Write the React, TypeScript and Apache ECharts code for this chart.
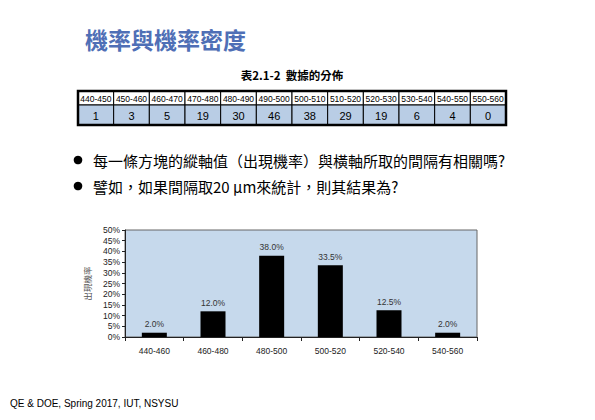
import React, { useEffect, useRef } from 'react';
import * as echarts from 'echarts';

const titleText = '機率與機率密度';
const captionText = '表2.1-2  數據的分佈';
const tableHeaders = ['440-450', '450-460', '460-470', '470-480', '480-490', '490-500', '500-510', '510-520', '520-530', '530-540', '540-550', '550-560'];
const tableCounts = [1, 3, 5, 19, 30, 46, 38, 29, 19, 6, 4, 0];
const bulletLines = [
  '每一條方塊的縱軸值（出現機率）與橫軸所取的間隔有相關嗎?',
  '譬如，如果間隔取20 μm來統計，則其結果為?',
];
const chartCategories = ['440-460', '460-480', '480-500', '500-520', '520-540', '540-560'];
const chartPercents = [2.0, 12.0, 38.0, 33.5, 12.5, 2.0];
const yAxisName = '出現機率';
const footerText = 'QE & DOE, Spring 2017, IUT, NSYSU';

const CJK = '"Noto Sans CJK TC", "Noto Sans CJK SC", sans-serif';
const LATIN = '"Liberation Sans", Arial, sans-serif';

export default function App() {
  const ref = useRef<HTMLDivElement>(null);
  useEffect(() => {
    if (!ref.current) return;
    const chart = echarts.init(ref.current, null, { renderer: 'svg' });
    const bulletY = [160, 186];
    const option: any = {
      animation: false,
      backgroundColor: '#ffffff',
      grid: [
        { left: 125, top: 230, width: 352, height: 107, show: true, backgroundColor: '#c6d9ec', borderColor: '#666', borderWidth: 1 },
        { left: 78, top: 91, width: 428, height: 34, show: false },
      ],
      xAxis: [
        {
          gridIndex: 0, type: 'category', data: chartCategories,
          axisLine: { lineStyle: { color: '#222', width: 1 } },
          axisTick: { show: true, length: 4, lineStyle: { color: '#222' } },
          axisLabel: { fontSize: 8.5, color: '#222', margin: 9, fontFamily: LATIN },
        },
        { gridIndex: 1, type: 'category', data: tableHeaders, show: false },
      ],
      yAxis: [
        {
          gridIndex: 0, type: 'value', min: 0, max: 50, interval: 5,
          axisLine: { show: true, lineStyle: { color: '#222' } },
          axisTick: { show: true, length: 3, lineStyle: { color: '#222' } },
          splitLine: { show: false },
          axisLabel: { formatter: '{value}%', fontSize: 8.5, color: '#222', margin: 5, fontFamily: LATIN },
          name: yAxisName, nameLocation: 'middle', nameRotate: 90, nameGap: 34,
          nameTextStyle: { fontSize: 8.5, color: '#555', fontFamily: CJK },
        },
        { gridIndex: 1, type: 'value', min: 0, max: 1, show: false },
      ],
      series: [
        {
          type: 'bar', xAxisIndex: 0, yAxisIndex: 0, data: chartPercents, barWidth: 25,
          itemStyle: { color: '#000' },
          label: {
            show: true, position: 'top', distance: 4,
            formatter: (p: any) => Number(p.value).toFixed(1) + '%',
            fontSize: 8.5, color: '#333', fontFamily: LATIN,
          },
        },
        {
          type: 'custom', xAxisIndex: 1, yAxisIndex: 1,
          data: tableCounts.map((v, i) => [i, v]),
          renderItem: (params: any, api: any) => {
            const cs = params.coordSys;
            const i = api.value(0);
            const cx = api.coord([i, 0])[0];
            const w = api.size([1, 0])[0];
            const x0 = cx - w / 2;
            const headerH = (cs.height * 14) / 34;
            const valueH = cs.height - headerH;
            const children: any[] = [
              { type: 'rect', shape: { x: x0, y: cs.y, width: w, height: headerH }, style: { fill: '#ffffff', stroke: '#000', lineWidth: 1 } },
              { type: 'text', style: { text: tableHeaders[i], x: cx, y: cs.y + headerH / 2 + 0.5, align: 'center', verticalAlign: 'middle', fontSize: 8.5, fill: '#000', fontFamily: LATIN } },
              { type: 'rect', shape: { x: x0, y: cs.y + headerH, width: w, height: valueH }, style: { fill: '#b9cde5', stroke: '#000', lineWidth: 1 } },
              { type: 'text', style: { text: String(api.value(1)), x: cx, y: cs.y + headerH + valueH / 2 + 0.5, align: 'center', verticalAlign: 'middle', fontSize: 11, fill: '#000', fontFamily: LATIN } },
            ];
            if (i === tableCounts.length - 1) {
              children.push({ type: 'rect', shape: { x: cs.x, y: cs.y, width: cs.width, height: cs.height }, style: { fill: 'none', stroke: '#000', lineWidth: 2.5 } });
            }
            return { type: 'group', children };
          },
        },
      ],
      graphic: [
        { type: 'text', x: 85, y: 39, style: { text: titleText, verticalAlign: 'middle', fontSize: 23, fontWeight: 'bold', fill: '#4f6fb6', fontFamily: CJK } },
        { type: 'text', x: 292, y: 75, style: { text: captionText, align: 'center', verticalAlign: 'middle', fontSize: 11.5, fontWeight: 'bold', fill: '#000', fontFamily: CJK } },
        ...bulletLines.flatMap((t, k) => [
          { type: 'circle', shape: { cx: 78, cy: bulletY[k], r: 4.3 }, style: { fill: '#000' } },
          { type: 'text', x: 93, y: bulletY[k], style: { text: t, verticalAlign: 'middle', fontSize: 15, fill: '#000', fontFamily: CJK } },
        ]),
        { type: 'text', x: 10, y: 403, style: { text: footerText, verticalAlign: 'middle', fontSize: 10, fill: '#000', fontFamily: LATIN } },
      ],
    };
    chart.setOption(option);
    return () => chart.dispose();
  }, []);
  return <div ref={ref} style={{ position: 'fixed', left: 0, top: 0, width: 595, height: 420 }} />;
}
